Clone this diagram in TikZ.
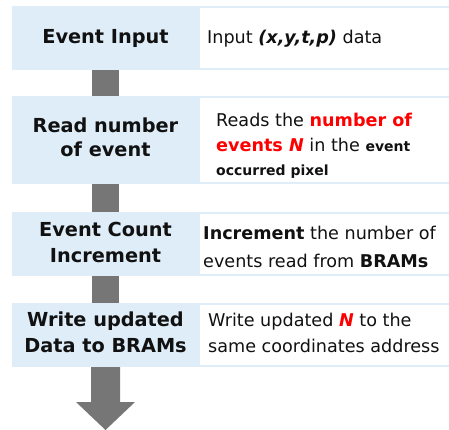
\documentclass[tikz,border=0pt]{standalone}
\usepackage{fontspec}
\setmainfont{DejaVu Sans}
\definecolor{bandblue}{HTML}{DEEDF8}
\definecolor{linkgrey}{HTML}{767676}
\definecolor{txt}{HTML}{111111}
\definecolor{hot}{HTML}{FF0000}
\tikzset{
  band/.style={fill=bandblue, draw=none},
  whitebox/.style={fill=white, draw=none},
  lefttext/.style={inner sep=0pt, anchor=base, font=\fontsize{19.3}{24}\selectfont\bfseries, text=txt},
  righttext/.style={inner sep=0pt, anchor=base west, font=\fontsize{17.6}{25}\selectfont, text=txt},
  link/.style={fill=linkgrey, draw=none},
}
\begin{document}
\begin{tikzpicture}[x=1pt,y=-1pt]
\useasboundingbox (0,0) rectangle (449,430);
% bands
\foreach \t/\b/\n in {6/70/1, 96/184/2, 212/276/3, 303/367/4}{
  \fill[band] (12,\t) rectangle (449,\b);
  \fill[whitebox] (200,\t+2) rectangle (449,\b-2);
  \coordinate (top\n) at (105.5,\t);
  \coordinate (bot\n) at (105.5,\b);
}
% connectors
\fill[link] ([xshift=-13.5pt]bot1) rectangle ([xshift=13.5pt]top2);
\fill[link] ([xshift=-13.5pt]bot2) rectangle ([xshift=13.5pt]top3);
\fill[link] ([xshift=-13.5pt]bot3) rectangle ([xshift=13.5pt]top4);
\coordinate (tip) at (105.5,430);
\fill[link] ([xshift=-14.5pt]bot4) -- ([xshift=-14.5pt]bot4 |- 0,402) -- (76,402) -- (tip) -- (135,402)
  -- ([xshift=14.5pt]bot4 |- 0,402) -- ([xshift=14.5pt]bot4) -- cycle;
% left labels
\node[lefttext] (l1) at (105.5,44) {Event Input};
\node[lefttext] (l2a) at (105.5,133) {Read number};
\node[lefttext] (l2b) at (105.5,157) {of event};
\node[lefttext] (l3a) at (105.5,236) {Event Count};
\node[lefttext] (l3b) at (105.5,262) {Increment};
\node[lefttext] (l4a) at (105.5,326) {Write updated};
\node[lefttext] (l4b) at (105.5,352) {Data to BRAMs};
% right descriptions
\node[righttext] (r1) at (207,44) {Input \textbf{\textit{(x,y,t,p)}} data};
\node[righttext] (r2a) at (216,127) {Reads the \textcolor{hot}{\textbf{number of}}};
\node[righttext] (r2b) at (216,152) {\textcolor{hot}{\textbf{events \textit{N}}} in the {\fontsize{14}{16}\selectfont\bfseries event}};
\node[righttext, font=\fontsize{14}{16}\selectfont\bfseries] (r2c) at (216,176) {occurred pixel};
\node[righttext] (r3a) at (203,240) {\textbf{Increment} the number of};
\node[righttext] (r3b) at (203,267) {events read from \textbf{BRAMs}};
\node[righttext] (r4a) at (208,326) {Write updated \textcolor{hot}{\textbf{\textit{N}}} to the};
\node[righttext] (r4b) at (208,352) {same coordinates address};
\end{tikzpicture}
\end{document}
